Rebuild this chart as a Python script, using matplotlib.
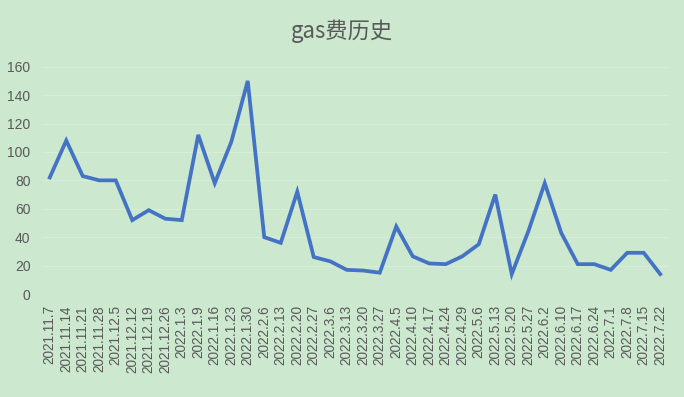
import matplotlib
matplotlib.use("Agg")
import matplotlib.pyplot as plt

dates = ["2021.11.7", "2021.11.14", "2021.11.21", "2021.11.28", "2021.12.5", "2021.12.12",
         "2021.12.19", "2021.12.26", "2022.1.3", "2022.1.9", "2022.1.16", "2022.1.23",
         "2022.1.30", "2022.2.6", "2022.2.13", "2022.2.20", "2022.2.27", "2022.3.6",
         "2022.3.13", "2022.3.20", "2022.3.27", "2022.4.5", "2022.4.10", "2022.4.17",
         "2022.4.24", "2022.4.29", "2022.5.6", "2022.5.13", "2022.5.20", "2022.5.27",
         "2022.6.2", "2022.6.10", "2022.6.17", "2022.6.24", "2022.7.1", "2022.7.8",
         "2022.7.15", "2022.7.22"]
gas = [82, 108, 83, 80, 80, 52, 59, 53, 52, 112, 78, 107, 150, 40, 36, 72, 26, 23,
       17, 16.5, 15, 47.5, 26.5, 21.5, 21, 26.5, 35, 70, 14, 44, 78, 43, 21, 21,
       17, 29, 29, 14]
yticks = [0, 20, 40, 60, 80, 100, 120, 140, 160]
title = "gas费历史"

bg = "#CCE8CF"
txt = "#595959"

fig = plt.figure(figsize=(6.84, 3.97), dpi=100, facecolor=bg)
ax = fig.add_axes([41.5/684, 1-294/397, 627/684, (294-66.7)/397], facecolor=bg)

x = list(range(len(dates)))
ax.plot(x, gas, color="#4472C4", linewidth=2.7, solid_joinstyle="miter")
ax.set_xlim(-0.5, len(dates) - 0.5)
ax.set_ylim(0, 160)
ax.set_yticks(yticks)
ax.set_yticklabels([str(v) for v in yticks], fontsize=10, color=txt, family="Liberation Sans")
ax.set_xticks(x)
ax.set_xticklabels(dates, rotation=90, fontsize=9.8, color=txt, family="Liberation Sans")
ax.tick_params(axis="both", length=0)
ax.tick_params(axis="x", pad=8)
ax.tick_params(axis="y", pad=8)
for s in ax.spines.values():
    s.set_visible(False)
ax.grid(axis="y", color="#D6EDD8", linewidth=0.8)
ax.set_axisbelow(True)

fig.text(0.5, 1-31/397, title, ha="center", va="center", fontsize=16, color=txt,
         family=["Noto Sans CJK SC", "DejaVu Sans"])

fig.savefig("out.png", dpi=100, facecolor=bg)
